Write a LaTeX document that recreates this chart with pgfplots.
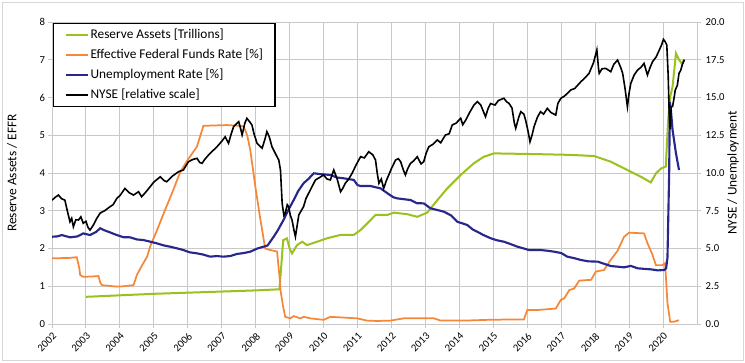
\documentclass[border=0pt]{standalone}
\usepackage{fontspec}
\setmainfont{Carlito}
\usepackage{pgfplots}
\pgfplotsset{compat=1.18}
\definecolor{resgreen}{RGB}{154,194,30}
\definecolor{effrorange}{RGB}{246,135,57}
\definecolor{unblue}{RGB}{40,40,140}
\definecolor{gridgray}{RGB}{200,200,200}
\definecolor{framegray}{RGB}{215,215,215}
\begin{document}
\begin{tikzpicture}
\pgfplotsset{
  common/.style={
    width=483.75pt, height=226.5pt, scale only axis,
    at={(39pt,28.5pt)}, anchor=south west,
    xmin=2002, xmax=2021,
    /pgf/number format/assume math mode=true,
    major tick length=3pt, tick align=outside,
    tick style={gridgray, line width=0.75pt},
    ticklabel style={font=\fontsize{8}{9.6}\selectfont},
    label style={font=\fontsize{9}{10.8}\selectfont},
    axis line style={gridgray, line width=0.75pt},
  }
}
\begin{axis}[common,
  ymin=0, ymax=8, ytick={0,1,...,8},
  xtick={2002,2003,...,2020},
  x tick label style={rotate=45, anchor=north east, inner sep=2pt, /pgf/number format/1000 sep={}},
  y tick label style={inner sep=2pt},
  ytick pos=left, xtick pos=bottom,
  grid=major, grid style={gridgray, line width=0.75pt},
  every axis y label/.style={at={(axis description cs:-0.062,0.5)}, rotate=90, anchor=center},
  ylabel={Reserve Assets / EFFR},
]
\addplot[resgreen, line width=1.5pt] coordinates {
(2003.0,0.72) (2004.0,0.76) (2005.0,0.80) (2006.0,0.83) (2007.0,0.86) (2008.0,0.89) (2008.7,0.92)
(2008.75,1.5) (2008.81,2.22) (2008.92,2.27) (2009.0,2.0) (2009.07,1.87) (2009.22,2.09) (2009.37,2.18)
(2009.51,2.09) (2009.81,2.18) (2010.1,2.27) (2010.5,2.36) (2010.89,2.36) (2011.09,2.49) (2011.38,2.75)
(2011.53,2.89) (2011.88,2.89) (2012.07,2.95) (2012.46,2.91) (2012.76,2.84) (2013.05,2.95) (2013.35,3.28)
(2013.64,3.59) (2014.04,3.95) (2014.43,4.26) (2014.72,4.43) (2015.02,4.52) (2016.3,4.50) (2017.28,4.48)
(2017.97,4.45) (2018.46,4.30) (2018.95,4.08) (2019.35,3.90) (2019.64,3.75) (2019.79,3.99) (2019.94,4.12)
(2020.08,4.17) (2020.15,5.4) (2020.21,6.02) (2020.28,6.29) (2020.38,7.17) (2020.47,7.0) (2020.55,6.9)
(2020.63,7.01)
};
\addplot[effrorange, line width=1.3pt] coordinates {
(2002.0,1.74) (2002.5,1.75) (2002.73,1.77) (2002.8,1.5) (2002.83,1.30) (2002.92,1.25) (2003.2,1.26)
(2003.37,1.27) (2003.42,1.1) (2003.47,1.03) (2003.7,1.01) (2003.91,0.99) (2004.1,1.0) (2004.4,1.03)
(2004.5,1.30) (2004.65,1.55) (2004.8,1.78) (2004.89,2.05) (2005.1,2.5) (2005.33,3.02) (2005.55,3.5)
(2005.78,4.03) (2006.0,4.35) (2006.27,4.70) (2006.46,5.25) (2006.8,5.26) (2007.15,5.27) (2007.55,5.25)
(2007.65,5.23) (2007.75,5.0) (2007.84,4.61) (2007.99,3.64) (2008.14,2.76) (2008.28,2.0) (2008.43,1.96)
(2008.63,1.92) (2008.71,1.17) (2008.73,0.9) (2008.8,0.5) (2008.87,0.19) (2009.02,0.15) (2009.12,0.21)
(2009.32,0.15) (2009.41,0.19) (2009.61,0.15) (2010.0,0.11) (2010.2,0.19) (2010.99,0.15) (2011.28,0.09)
(2011.58,0.08) (2011.97,0.09) (2012.36,0.15) (2012.86,0.15) (2013.25,0.15) (2013.45,0.09) (2014.13,0.09)
(2014.82,0.11) (2015.51,0.12) (2015.9,0.12) (2016.0,0.37) (2016.3,0.37) (2016.84,0.41) (2016.99,0.64)
(2017.09,0.68) (2017.24,0.90) (2017.38,0.94) (2017.53,1.15) (2017.88,1.17) (2018.02,1.39) (2018.26,1.43)
(2018.46,1.70) (2018.66,1.94) (2018.85,2.31) (2019.0,2.42) (2019.44,2.40) (2019.54,2.14) (2019.69,1.83)
(2019.79,1.56) (2019.98,1.56) (2020.06,1.61) (2020.13,0.55) (2020.21,0.06) (2020.32,0.06) (2020.47,0.1)
};
\end{axis}
\begin{axis}[common,
  ymin=0, ymax=20, ytick={0,2.5,...,20},
  axis x line=none, xtick=\empty,
  axis y line*=right,
  yticklabel style={/pgf/number format/.cd, fixed, fixed zerofill, precision=1},
  every axis y label/.style={at={(axis description cs:1.056,0.5)}, rotate=90, anchor=center},
  ylabel={NYSE / Unemployment},
  legend cell align=left,
  legend style={at={(0.002,0.997)}, anchor=north west, draw=black, line width=0.8pt,
    font=\fontsize{10}{12}\selectfont, inner xsep=8pt, inner ysep=1pt,
    nodes={text height=7.5pt, text depth=2.5pt, inner ysep=2.5pt, inner xsep=1pt}},
  legend image code/.code={\draw[#1] (0pt,0pt) -- (17pt,0pt);},
]
\addlegendimage{resgreen, line width=1.5pt}
\addlegendentry{Reserve Assets [Trillions]}
\addlegendimage{effrorange, line width=1.3pt}
\addlegendentry{Effective Federal Funds Rate [\%]}
\addplot[unblue, line width=1.6pt] coordinates {
(2002.0,5.78) (2002.15,5.8) (2002.29,5.89) (2002.53,5.74) (2002.75,5.8) (2002.92,6.0) (2003.12,5.89)
(2003.3,6.1) (2003.42,6.34) (2003.55,6.2) (2003.66,6.11) (2003.91,5.89) (2004.1,5.75) (2004.3,5.74)
(2004.5,5.6) (2004.69,5.56) (2004.9,5.45) (2005.09,5.34) (2005.3,5.2) (2005.48,5.12) (2005.7,5.0)
(2005.87,4.9) (2006.05,4.75) (2006.27,4.68) (2006.45,4.6) (2006.66,4.46) (2006.85,4.5) (2007.05,4.46)
(2007.25,4.5) (2007.45,4.64) (2007.65,4.7) (2007.84,4.79) (2008.05,5.0) (2008.23,5.12) (2008.35,5.2)
(2008.53,5.78) (2008.65,6.2) (2008.82,6.89) (2008.95,7.5) (2009.12,8.21) (2009.25,8.8) (2009.41,9.32)
(2009.55,9.6) (2009.71,9.98) (2009.9,9.93) (2010.2,9.87) (2010.4,9.7) (2010.59,9.65) (2010.89,9.54)
(2011.0,9.2) (2011.09,9.14) (2011.38,9.14) (2011.55,9.05) (2011.68,8.98) (2011.88,8.66) (2012.05,8.4)
(2012.17,8.32) (2012.56,8.21) (2012.75,8.0) (2012.95,7.99) (2013.15,7.66) (2013.35,7.55) (2013.54,7.44)
(2013.75,7.2) (2013.94,6.77) (2014.23,6.56) (2014.4,6.25) (2014.53,6.11) (2014.7,5.9) (2014.92,5.68)
(2015.1,5.55) (2015.31,5.45) (2015.5,5.3) (2015.71,5.12) (2015.9,5.0) (2016.05,4.9) (2016.39,4.9)
(2016.6,4.85) (2016.79,4.79) (2017.0,4.7) (2017.18,4.46) (2017.4,4.35) (2017.58,4.24) (2017.8,4.15)
(2018.07,4.13) (2018.25,4.0) (2018.46,3.84) (2018.65,3.8) (2018.85,3.75) (2019.05,3.85) (2019.25,3.69)
(2019.45,3.65) (2019.64,3.62) (2019.85,3.55) (2020.04,3.58) (2020.09,3.69) (2020.13,4.4) (2020.18,10.0)
(2020.2,14.7) (2020.23,14.2) (2020.28,12.85) (2020.38,11.3) (2020.47,10.2)
};
\addlegendentry{Unemployment Rate [\%]}
\addplot[black, line width=1.2pt] coordinates {
(2002.0,8.2) (2002.1,8.4) (2002.19,8.54) (2002.28,8.3) (2002.38,8.2) (2002.45,7.5) (2002.53,6.77)
(2002.58,7.0) (2002.63,6.44) (2002.7,6.9) (2002.78,6.89) (2002.85,7.1) (2002.92,6.67) (2003.0,6.8)
(2003.06,6.4) (2003.12,6.22) (2003.22,6.56) (2003.32,7.0) (2003.42,7.35) (2003.55,7.5) (2003.71,7.77)
(2003.8,7.9) (2003.91,8.32) (2004.0,8.5) (2004.15,8.98) (2004.27,8.7) (2004.4,8.54) (2004.55,8.76)
(2004.64,8.43) (2004.75,8.7) (2004.89,9.09) (2005.0,9.4) (2005.19,9.75) (2005.3,9.5) (2005.38,9.42)
(2005.55,9.8) (2005.73,10.09) (2005.87,10.2) (2006.02,10.75) (2006.15,10.9) (2006.27,10.97) (2006.35,10.7)
(2006.42,10.64) (2006.5,10.9) (2006.61,11.19) (2006.75,11.5) (2006.86,11.74) (2007.0,12.1) (2007.1,12.4)
(2007.2,11.97) (2007.28,12.6) (2007.35,13.07) (2007.5,13.4) (2007.56,12.9) (2007.6,12.52) (2007.68,13.3)
(2007.74,13.62) (2007.82,13.4) (2007.89,13.18) (2007.95,12.6) (2008.04,11.97) (2008.19,11.64) (2008.28,12.3)
(2008.33,12.74) (2008.4,12.4) (2008.48,11.74) (2008.6,11.2) (2008.68,10.86) (2008.73,10.2) (2008.78,7.99)
(2008.83,7.2) (2008.87,7.33) (2008.93,7.9) (2008.97,7.77) (2009.02,7.2) (2009.07,6.89) (2009.12,6.3)
(2009.17,5.78) (2009.22,6.5) (2009.27,7.22) (2009.34,7.5) (2009.41,7.77) (2009.48,8.3) (2009.56,8.66)
(2009.66,9.1) (2009.76,9.54) (2009.88,9.7) (2010.0,9.87) (2010.1,9.6) (2010.2,9.54) (2010.3,10.2)
(2010.4,9.6) (2010.5,8.76) (2010.57,9.0) (2010.64,9.32) (2010.74,9.6) (2010.84,9.98) (2010.95,10.5)
(2011.09,11.08) (2011.2,11.0) (2011.33,11.41) (2011.45,11.2) (2011.53,10.86) (2011.58,10.0) (2011.63,9.32)
(2011.7,9.6) (2011.77,8.98) (2011.85,9.5) (2011.92,9.87) (2012.0,10.3) (2012.12,10.86) (2012.2,10.95)
(2012.27,10.75) (2012.35,10.2) (2012.41,9.87) (2012.48,10.3) (2012.56,10.64) (2012.65,10.8) (2012.76,11.08)
(2012.87,10.6) (2012.95,10.75) (2013.02,11.3) (2013.1,11.74) (2013.22,11.9) (2013.35,12.19) (2013.45,12.0)
(2013.59,12.52) (2013.7,12.6) (2013.79,13.18) (2013.9,13.3) (2014.04,13.62) (2014.1,13.2) (2014.19,13.51)
(2014.3,14.0) (2014.43,14.5) (2014.53,14.72) (2014.63,14.5) (2014.77,13.73) (2014.85,14.3) (2014.92,14.6)
(2015.05,14.5) (2015.15,14.8) (2015.31,14.95) (2015.4,14.7) (2015.46,14.62) (2015.55,14.3) (2015.62,13.3)
(2015.66,12.96) (2015.75,13.7) (2015.81,14.06) (2015.9,13.9) (2015.95,13.51) (2016.02,12.8) (2016.08,12.07)
(2016.14,12.5) (2016.2,13.07) (2016.3,13.7) (2016.39,14.06) (2016.48,13.9) (2016.59,14.28) (2016.7,14.0)
(2016.84,13.84) (2016.9,14.6) (2016.99,14.95) (2017.1,15.1) (2017.28,15.5) (2017.4,15.6) (2017.58,16.05)
(2017.7,16.3) (2017.82,16.6) (2017.95,17.3) (2018.05,18.15) (2018.1,16.9) (2018.12,16.6) (2018.2,16.9)
(2018.31,16.93) (2018.46,16.71) (2018.55,17.2) (2018.66,17.48) (2018.75,17.0) (2018.81,16.6) (2018.88,15.6)
(2018.95,14.39) (2019.0,15.3) (2019.05,15.94) (2019.15,16.5) (2019.25,16.82) (2019.35,17.0) (2019.44,17.26)
(2019.54,16.49) (2019.62,17.0) (2019.69,17.37) (2019.8,17.7) (2019.89,18.15) (2019.96,18.5) (2020.01,18.85)
(2020.06,18.7) (2020.11,18.48) (2020.15,16.5) (2020.18,14.0) (2020.21,12.9) (2020.24,14.4) (2020.28,14.4)
(2020.33,15.05) (2020.36,15.5) (2020.42,15.8) (2020.47,16.6) (2020.52,16.8) (2020.57,17.2) (2020.63,17.5)
};
\addlegendentry{NYSE [relative scale]}
\end{axis}
\draw[framegray, line width=0.75pt] (1.5pt,1.5pt) rectangle (557.25pt,270pt);
\pgfresetboundingbox
\useasboundingbox (0pt,0pt) rectangle (558.75pt,271.5pt);
\end{tikzpicture}
\end{document}
